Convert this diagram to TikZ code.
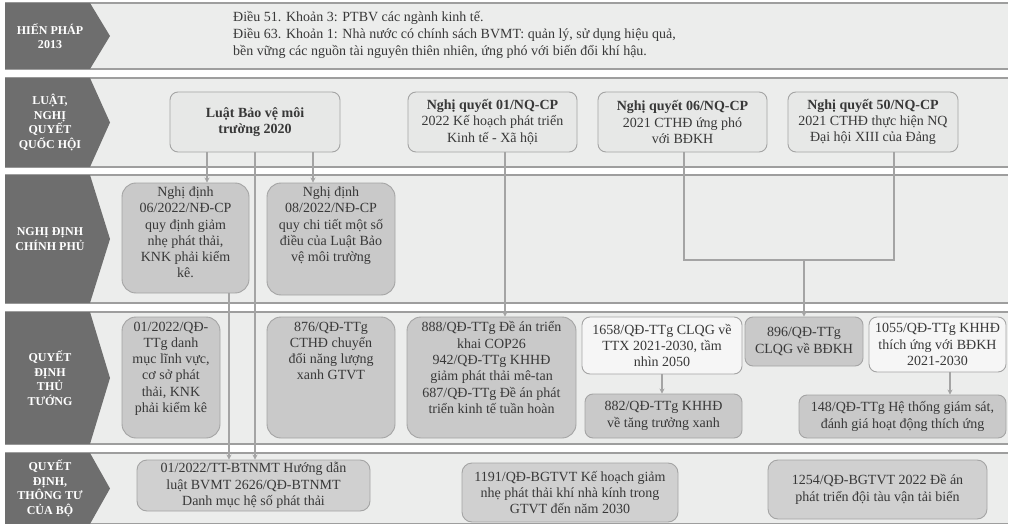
\documentclass[tikz,border=0pt]{standalone}
\usepackage{fontspec}
\setmainfont{Liberation Serif}
\usetikzlibrary{arrows.meta,positioning}
\definecolor{bandbg}{HTML}{ECEDEC}
\definecolor{bandline}{HTML}{9E9E9E}
\definecolor{hdrgray}{HTML}{6E6E6E}
\definecolor{lnkgray}{HTML}{A4A4A4}
\definecolor{txtgray}{HTML}{383838}
\definecolor{boxlight}{HTML}{E7E8E7}
\definecolor{boxdark}{HTML}{C9C9C9}
\definecolor{boxmid}{HTML}{D0D0D0}
\definecolor{boxwhite}{HTML}{F6F6F6}

\begin{document}
\begin{tikzpicture}[x=1pt,y=-1pt,
		hdr/.style={text=white,font=\fontsize{12}{14.5}\selectfont\bfseries,align=center},
		box/.style={draw=lnkgray,line width=0.9pt,rounded corners=8pt,fill=boxlight,text=txtgray,
			align=center,font=\fontsize{14}{16.3}\selectfont,inner sep=2pt},
		dkbox/.style={box,fill=boxdark,rounded corners=14pt},
		wtbox/.style={box,fill=boxwhite},
		txt/.style={text=txtgray,align=center,font=\fontsize{14}{16.3}\selectfont,inner sep=0pt},
		arr/.style={draw=lnkgray,line width=1.1pt,-{Stealth[length=5pt,width=5pt]}},
		lnk/.style={draw=lnkgray,line width=1.1pt}]
		\useasboundingbox (0,0) rectangle (1009,524);
		%% bands
		\foreach \ya/\yb/\txt [count=\i] in {3/69/{HIẾN PHÁP\\2013}, 78/167/{LUẬT,\\NGHỊ\\QUYẾT\\QUỐC HỘI},
			175/303/{NGHỊ ĐỊNH\\CHÍNH PHỦ}, 312/444/{QUYẾT\\ĐỊNH\\THỦ\\TƯỚNG}, 453/524/{QUYẾT\\ĐỊNH,\\THÔNG TƯ\\CỦA BỘ}}
		{
			\fill[bandbg] (5,\ya) rectangle (1008,\yb);
			\draw[bandline,line width=1.6pt] (5,\ya) -- (1008,\ya) (5,\yb) -- (1008,\yb);
			\fill[hdrgray] (5,\ya) -- (90,\ya) -- (110,{(\ya+\yb)/2}) -- (90,\yb) -- (5,\yb) -- cycle;
			\node[hdr] (hdr\i) at (50,{(\ya+\yb)/2}) {\txt};
		}
		\node[txt,align=left,anchor=west,font=\fontsize{14}{17}\selectfont] (hp) at (233,35)
		{Điều 51. Khoản 3: PTBV các ngành kinh tế.\\
			Điều 63. Khoản 1: Nhà nước có chính sách BVMT: quản lý, sử dụng hiệu quả,\\
			bền vững các nguồn tài nguyên thiên nhiên, ứng phó với biến đổi khí hậu.};
		%% luat, nghi quyet
		\node[box,minimum width=170,minimum height=60] (luat) at (255,122) {\textbf{Luật Bảo vệ môi}\\\textbf{trường 2020}};
		\node[box,minimum width=169,minimum height=60] (nq01) at (492.5,122) {\textbf{Nghị quyết 01/NQ-CP}\\2022 Kế hoạch phát triển\\Kinh tế - Xã hội};
		\node[box,minimum width=169,minimum height=60] (nq06) at (682.5,122) {\textbf{Nghị quyết 06/NQ-CP}\\2021 CTHĐ ứng phó\\với BĐKH};
		\node[box,minimum width=170,minimum height=60] (nq50) at (873,122) {\textbf{Nghị quyết 50/NQ-CP}\\2021 CTHĐ thực hiện NQ\\Đại hội XIII của Đảng};
		%% nghi dinh
		\node[dkbox,minimum width=127,minimum height=110] (nd06) at (185.5,238) {};
		\node[txt,below=4pt of nd06.north] (nd06t) {Nghị định\\06/2022/NĐ-CP\\quy định giảm\\nhẹ phát thải,\\KNK phải kiểm\\kê.};
		\node[dkbox,minimum width=128,minimum height=112] (nd08) at (331,239) {};
		\node[txt,below=4pt of nd08.north] (nd08t) {Nghị định\\08/2022/NĐ-CP\\quy chi tiết một số\\điều của Luật Bảo\\vệ môi trường};
		%% quyet dinh thu tuong
		\node[dkbox,minimum width=98,minimum height=121] (qd01) at (171,377.5) {};
		\node[txt,below=5pt of qd01.north] (qd01t) {01/2022/QĐ-\\TTg danh\\mục lĩnh vực,\\cơ sở phát\\thải, KNK\\phải kiểm kê};
		\node[dkbox,minimum width=128,minimum height=121] (qd876) at (331,377.5) {};
		\node[txt,below=5pt of qd876.north] (qd876t) {876/QĐ-TTg\\CTHĐ chuyển\\đổi năng lượng\\xanh GTVT};
		\node[dkbox,minimum width=169,minimum height=121] (qd888) at (491.5,377.5) {};
		\node[txt,below=5pt of qd888.north] (qd888t) {888/QĐ-TTg Đề án triển\\khai COP26\\942/QĐ-TTg KHHĐ\\giảm phát thải mê-tan\\687/QĐ-TTg Đề án phát\\triển kinh tế tuần hoàn};
		\node[wtbox,minimum width=160,minimum height=57] (qd1658) at (662,345.5) {1658/QĐ-TTg CLQG về\\TTX 2021-2030, tầm\\nhìn 2050};
		\node[box,fill=boxdark,minimum width=118,minimum height=49] (qd896) at (804,341.5) {896/QĐ-TTg\\CLQG về BĐKH};
		\node[wtbox,minimum width=137,minimum height=55] (qd1055) at (937.5,344.5) {1055/QĐ-TTg KHHĐ\\thích ứng với BĐKH\\2021-2030};
		\node[box,fill=boxdark,minimum width=157,minimum height=44] (qd882) at (663.5,416) {882/QĐ-TTg KHHĐ\\về tăng trưởng xanh};
		\node[box,fill=boxdark,minimum width=207,minimum height=43] (qd148) at (902.5,416.5) {148/QĐ-TTg Hệ thống giám sát,\\đánh giá hoạt động thích ứng};
		%% quyet dinh, thong tu cua bo
		\node[box,fill=boxmid,rounded corners=10pt,minimum width=233,minimum height=51] (tt01) at (253.5,485.5) {01/2022/TT-BTNMT Hướng dẫn\\luật BVMT 2626/QĐ-BTNMT\\Danh mục hệ số phát thải};
		\node[box,fill=boxmid,rounded corners=10pt,minimum width=216,minimum height=59] (bg1191) at (570,492.5) {1191/QĐ-BGTVT Kế hoạch giảm\\nhẹ phát thải khí nhà kính trong\\GTVT đến năm 2030};
		\node[box,fill=boxmid,rounded corners=10pt,minimum width=219,minimum height=59] (bg1254) at (877.5,489.5) {1254/QĐ-BGTVT 2022 Đề án\\phát triển đội tàu vận tải biển};
		%% connectors
		\coordinate (l1) at ([xshift=-48pt]luat.south);
		\coordinate (l3) at ([xshift=58pt]luat.south);
		\coordinate (d1) at ([xshift=43.5pt]nd06.south);
		\coordinate (n1) at ([xshift=12.5pt]nq01.south);
		\coordinate (n6) at ([xshift=1.5pt]nq06.south);
		\coordinate (n5) at ([xshift=21pt]nq50.south);
		\coordinate (bk) at (0,260);
		\coordinate (w1) at ([xshift=12.5pt]qd1055.south);
		\draw[arr] (l1) -- (l1 |- nd06.north);
		\draw[arr] (l3) -- (l3 |- nd08.north);
		\draw[arr] (luat.south) -- (luat.south |- tt01.north);
		\draw[arr] (d1) -- (d1 |- tt01.north);
		\draw[arr] (n1) -- (n1 |- qd888.north);
		\draw[lnk] (n6) -- (n6 |- bk) -- (n5 |- bk) -- (n5);
		\draw[arr] (qd896.north |- bk) -- (qd896.north);
		\draw[arr] (qd1658.south) -- (qd1658.south |- qd882.north);
		\draw[arr] (w1) -- (w1 |- qd148.north);
	\end{tikzpicture}
\end{document}
